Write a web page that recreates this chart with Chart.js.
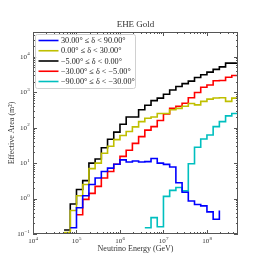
<!DOCTYPE html>
<html>
<head>
<meta charset="utf-8">
<script src="https://cdn.jsdelivr.net/npm/chart.js@4.4.1/dist/chart.umd.min.js"></script>
<style>
  html, body { margin: 0; padding: 0; background: #fff; }
  canvas { display: block; }
</style>
</head>
<body>
<canvas id="chart" width="264" height="264"></canvas>
<script>
// 33 log bins, 7 per decade, starting at 1e4 GeV
const binEdges = Array.from({ length: 34 }, (_, k) => Math.pow(10, 4 + k / 7));

const seriesLabels = [
  "30.00° ≤ δ < 90.00°",
  "0.00° ≤ δ < 30.00°",
  "−5.00° ≤ δ < 0.00°",
  "−30.00° ≤ δ < −5.00°",
  "−90.00° ≤ δ < −30.00°"
];
const seriesColors = ["#0000ff", "#bfbf00", "#000000", "#ff0000", "#00bfbf"];

// effective area per bin (m^2)
const band30to90 = [0, 0, 0, 0, 0, 0, 0.15, 0.55, 1.2, 2.5, 3.8, 5.8, 7.2, 9.3, 12.3, 10.7, 11.5,
  10.7, 11, 13.5, 10, 9.2, 7.8, 2.8, 1.5, 0.85, 0.68, 0.62, 0.42, 0.26, 0.46, 0, 0];
const band0to30 = [0, 0, 0, 0, 0, 0.11, 0.46, 1.2, 2.5, 7, 10, 19, 30, 46, 60, 78, 105,
  148, 185, 200, 250, 250, 320, 350, 400, 480, 440, 550, 640, 690, 700, 550, 680];
const bandM5to0 = [0, 0, 0, 0, 0, 0.13, 0.7, 1.8, 3.2, 10, 13, 27, 47, 75, 125, 200, 200,
  320, 430, 580, 680, 880, 1150, 1450, 1750, 2050, 2600, 3100, 3700, 4400, 5200, 6600, 6600];
const bandM30toM5 = [0, 0, 0, 0, 0, 0, 0, 0.35, 0.95, 1.4, 2.2, 3.8, 5.8, 9.3, 15.5, 23, 36,
  56, 85, 107, 160, 245, 350, 400, 490, 700, 980, 1380, 1600, 2100, 2150, 2650, 2950];
const bandM90toM30 = [0, 0, 0, 0, 0, 0, 0, 0, 0, 0, 0, 0, 0, 0, 0, 0, 0,
  0, 0.15, 0.29, 0.16, 1.15, 1.7, 2.05, 1.65, 9.6, 28, 48, 62, 107, 148, 215, 250];

const xMajorTicks = [1e4, 1e5, 1e6, 1e7, 1e8];
const yMajorTicks = [0.1, 1, 10, 100, 1000, 10000];
const minorSteps = [2, 3, 4, 5, 6, 7, 8, 9];

const xMin = binEdges[0];
const xMax = binEdges[binEdges.length - 1];
const yMin = 0.1;
const yMax = 5e4;

function stepPoints(values) {
  const pts = values.map((v, i) => ({ x: binEdges[i], y: v }));
  pts.push({ x: binEdges[values.length], y: values[values.length - 1] });
  return pts;
}

const allSeries = [band30to90, band0to30, bandM5to0, bandM30toM5, bandM90toM30];

const serif = "'Liberation Serif', 'DejaVu Serif', serif";

// "10" with a raised exponent
function drawPow(ctx, exp, x, y, align) {
  const base = "10";
  const sup = String(exp).replace("-", "−");
  ctx.font = "7px " + serif;
  const bw = ctx.measureText(base).width;
  ctx.font = "5px " + serif;
  const sw = ctx.measureText(sup).width;
  const total = bw + sw;
  let left = x;
  if (align === "center") left = x - total / 2;
  if (align === "right") left = x - total;
  ctx.textAlign = "left";
  ctx.textBaseline = "middle";
  ctx.font = "7px " + serif;
  ctx.fillText(base, left, y);
  ctx.font = "5px " + serif;
  ctx.fillText(sup, left + bw + 0.3, y - 2.8);
}

const axesPlugin = {
  id: "axesFrame",
  afterDatasetsDraw(chart) {
    const { ctx, chartArea: a, scales: { x, y } } = chart;
    ctx.save();
    ctx.strokeStyle = "#555";
    ctx.lineWidth = 1;
    ctx.beginPath();
    const tick = (px, len, vertical) => {
      if (vertical) {
        ctx.moveTo(px, a.bottom); ctx.lineTo(px, a.bottom - len);
        ctx.moveTo(px, a.top); ctx.lineTo(px, a.top + len);
      } else {
        ctx.moveTo(a.left, px); ctx.lineTo(a.left + len, px);
        ctx.moveTo(a.right, px); ctx.lineTo(a.right - len, px);
      }
    };
    xMajorTicks.forEach(v => {
      tick(Math.round(x.getPixelForValue(v)) + 0.5, 4, true);
      minorSteps.forEach(m => {
        const val = v * m;
        if (val < xMax) tick(Math.round(x.getPixelForValue(val)) + 0.5, 2, true);
      });
    });
    yMajorTicks.forEach(v => {
      tick(Math.round(y.getPixelForValue(v)) + 0.5, 4, false);
      minorSteps.forEach(m => {
        const val = v * m;
        if (val < yMax) tick(Math.round(y.getPixelForValue(val)) + 0.5, 2, false);
      });
    });
    ctx.stroke();
    ctx.strokeRect(Math.round(a.left) + 0.5, Math.round(a.top) + 0.5,
      Math.round(a.right - a.left) - 1, Math.round(a.bottom - a.top) - 1);

    // legend
    const lx = a.left + 2, ly = a.top + 2, lw = 100, lh = 54;
    ctx.fillStyle = "rgba(255,255,255,0.85)";
    ctx.strokeStyle = "#d0d0d0";
    ctx.beginPath();
    ctx.roundRect(lx + 0.5, ly + 0.5, lw, lh, 2);
    ctx.fill();
    ctx.stroke();
    chart.data.datasets.forEach((ds, i) => {
      const ry = ly + 6.5 + i * 10.25;
      ctx.strokeStyle = ds.borderColor;
      ctx.lineWidth = 1.6;
      ctx.beginPath();
      ctx.moveTo(lx + 3.5, ry);
      ctx.lineTo(lx + 23.5, ry);
      ctx.stroke();
      ctx.fillStyle = "#222";
      ctx.font = "8.2px " + serif;
      ctx.textAlign = "left";
      ctx.textBaseline = "middle";
      ctx.fillText(ds.label, lx + 26, ry + 0.5);
    });
    ctx.restore();
  },
  afterDraw(chart) {
    const { ctx, chartArea: a, scales: { x, y } } = chart;
    ctx.save();
    ctx.fillStyle = "#333";
    xMajorTicks.forEach(v => {
      drawPow(ctx, Math.round(Math.log10(v)), x.getPixelForValue(v), a.bottom + 7.5, "center");
    });
    yMajorTicks.forEach(v => {
      drawPow(ctx, Math.round(Math.log10(v)), a.left - 3.5, y.getPixelForValue(v), "right");
    });
    const cx = (a.left + a.right) / 2;
    ctx.fillStyle = "#333";
    ctx.textAlign = "center";
    ctx.textBaseline = "middle";
    ctx.font = "9px " + serif;
    ctx.fillText("EHE Gold", cx, a.top - 7);
    ctx.font = "8px " + serif;
    ctx.fillText("Neutrino Energy (GeV)", cx, a.bottom + 15);
    ctx.translate(11.5, (a.top + a.bottom) / 2);
    ctx.rotate(-Math.PI / 2);
    ctx.fillText("Effective Area (m²)", 0, 0);
    ctx.restore();
  }
};

new Chart(document.getElementById("chart"), {
  type: "line",
  data: {
    datasets: allSeries.map((values, i) => ({
      label: seriesLabels[i],
      data: stepPoints(values),
      borderColor: seriesColors[i],
      backgroundColor: seriesColors[i],
      borderWidth: 1.6,
      stepped: true,
      pointRadius: 0,
      fill: false,
      clip: 0
    }))
  },
  options: {
    responsive: false,
    animation: false,
    devicePixelRatio: 1,
    layout: { padding: { left: 33, right: 26, top: 32, bottom: 30 } },
    scales: {
      x: { type: "logarithmic", min: xMin, max: xMax, display: false },
      y: { type: "logarithmic", min: yMin, max: yMax, display: false }
    },
    plugins: {
      legend: { display: false },
      tooltip: { enabled: false }
    }
  },
  plugins: [axesPlugin]
});
</script>
</body>
</html>
